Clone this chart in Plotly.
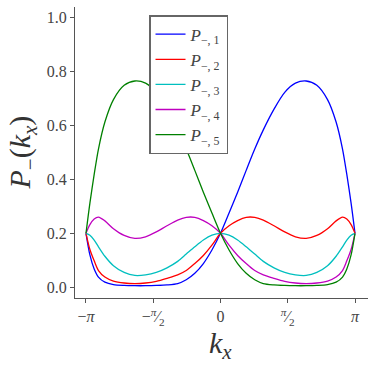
import plotly.graph_objects as go

# k_x sample positions
k = [-3.1416, -3.05, -2.95, -2.85, -2.7, -2.5, -2.25, -2.0, -1.75, -1.5, -1.25, -1.0,
     -0.8, -0.6, -0.4, -0.2, 0.0, 0.2, 0.4, 0.6, 0.8, 1.0, 1.25, 1.5, 1.75, 2.0,
     2.25, 2.5, 2.7, 2.85, 2.95, 3.05, 3.1416]

p1 = [0.200, 0.120, 0.068, 0.038, 0.019, 0.010, 0.007, 0.006, 0.006, 0.007, 0.009, 0.014,
      0.028, 0.052, 0.088, 0.138, 0.200, 0.275, 0.352, 0.433, 0.512, 0.583, 0.660, 0.722,
      0.756, 0.764, 0.748, 0.695, 0.612, 0.512, 0.418, 0.312, 0.200]

p2 = [0.200, 0.140, 0.098, 0.062, 0.038, 0.023, 0.016, 0.014, 0.016, 0.022, 0.033, 0.046,
      0.062, 0.088, 0.118, 0.156, 0.200, 0.228, 0.247, 0.259, 0.259, 0.249, 0.228, 0.205,
      0.187, 0.181, 0.192, 0.217, 0.246, 0.260, 0.253, 0.232, 0.200]

p3 = [0.200, 0.193, 0.175, 0.150, 0.115, 0.080, 0.055, 0.044, 0.046, 0.055, 0.072, 0.096,
      0.123, 0.150, 0.175, 0.193, 0.200, 0.193, 0.175, 0.150, 0.123, 0.096, 0.072, 0.055,
      0.046, 0.044, 0.055, 0.080, 0.115, 0.150, 0.175, 0.193, 0.200]

p4 = [0.200, 0.232, 0.253, 0.260, 0.246, 0.217, 0.192, 0.181, 0.187, 0.205, 0.228, 0.249,
      0.259, 0.259, 0.247, 0.228, 0.200, 0.156, 0.118, 0.088, 0.062, 0.046, 0.033, 0.022,
      0.016, 0.014, 0.016, 0.023, 0.038, 0.062, 0.098, 0.140, 0.200]

p5 = [0.200, 0.312, 0.418, 0.512, 0.612, 0.695, 0.748, 0.764, 0.756, 0.722, 0.660, 0.583,
      0.512, 0.433, 0.352, 0.275, 0.200, 0.138, 0.088, 0.052, 0.028, 0.014, 0.009, 0.007,
      0.006, 0.006, 0.007, 0.010, 0.019, 0.038, 0.068, 0.120, 0.200]

series = [p1, p2, p3, p4, p5]
names = ["<i>P</i><sub>−, 1</sub>", "<i>P</i><sub>−, 2</sub>", "<i>P</i><sub>−, 3</sub>",
         "<i>P</i><sub>−, 4</sub>", "<i>P</i><sub>−, 5</sub>"]
colors = ["#0000ff", "#ff0000", "#00bfbf", "#bf00bf", "#008000"]

xtick_vals = [-3.14159265, -1.57079633, 0.0, 1.57079633, 3.14159265]
xtick_text = ["−<i>π</i>", "−<sup><i>π</i></sup>⁄<sub>2</sub>", "0",
              "<sup><i>π</i></sup>⁄<sub>2</sub>", "<i>π</i>"]
ytick_vals = [0.0, 0.2, 0.4, 0.6, 0.8, 1.0]
ytick_text = ["0.0", "0.2", "0.4", "0.6", "0.8", "1.0"]

x_title = "<i>k</i><sub><i>x</i></sub>"
y_title = "<i>P</i><sub>−</sub>(<i>k</i><sub><i>x</i></sub>)"

fig = go.Figure()
for y, n, c in zip(series, names, colors):
    fig.add_trace(go.Scatter(x=k, y=y, mode="lines", name=n,
                             line=dict(color=c, width=1.3, shape="spline", smoothing=0.8)))

font_family = "Liberation Serif, Times New Roman, DejaVu Serif, serif"
axis_color = "#555555"

fig.update_layout(
    width=374, height=368,
    margin=dict(l=75, r=6, t=7, b=70, autoexpand=False),
    paper_bgcolor="white", plot_bgcolor="white",
    font=dict(family=font_family, color="#444444", size=15),
    showlegend=True,
    legend=dict(x=0.2526, y=0.972, xanchor="left", yanchor="top",
                bgcolor="white", bordercolor="#666666", borderwidth=1.5,
                font=dict(family=font_family, size=17, color="#444444"),
                itemwidth=30),
    xaxis=dict(range=[-3.398, 3.445], showgrid=False, zeroline=False, automargin=False,
               showline=True, linecolor=axis_color, linewidth=1.2,
               ticks="outside", ticklen=4, tickwidth=1.2, tickcolor=axis_color,
               tickvals=xtick_vals, ticktext=xtick_text,
               tickfont=dict(family=font_family, size=16, color="#444444")),
    yaxis=dict(range=[-0.0396, 1.038], showgrid=False, zeroline=False, automargin=False,
               showline=True, linecolor=axis_color, linewidth=1.2,
               ticks="outside", ticklen=4, tickwidth=1.2, tickcolor=axis_color,
               tickvals=ytick_vals, ticktext=ytick_text,
               tickfont=dict(family=font_family, size=16, color="#444444")),
    annotations=[
        dict(text=x_title, xref="x", yref="paper", x=0.0, y=-0.1615,
             xanchor="center", yanchor="middle", showarrow=False,
             font=dict(family=font_family, size=30, color="#333333")),
        dict(text=y_title, xref="paper", yref="paper", x=-0.181, y=0.50,
             xanchor="center", yanchor="middle", showarrow=False, textangle=-90,
             font=dict(family=font_family, size=30, color="#333333")),
    ],
)

fig.write_html("out.html", config={"displayModeBar": False},
               post_script="document.body.style.margin='0';")
